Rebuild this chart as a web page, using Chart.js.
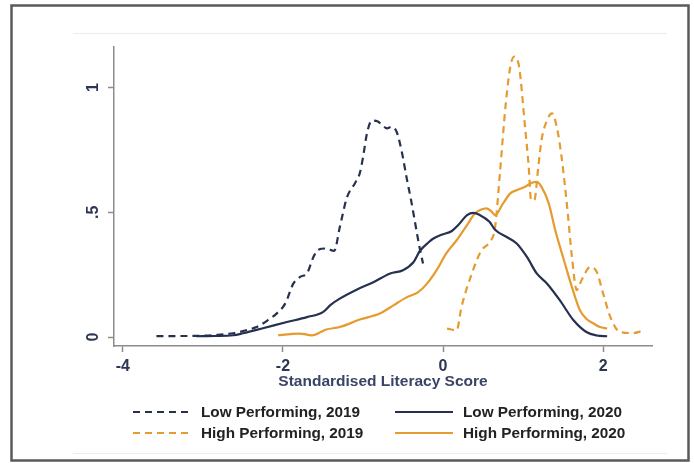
<!DOCTYPE html>
<html>
<head>
<meta charset="utf-8">
<script src="https://cdn.jsdelivr.net/npm/chart.js@4/dist/chart.umd.min.js"></script>
<style>
  html, body { margin: 0; padding: 0; background: #ffffff; }
  #wrap { width: 694px; height: 463px; position: relative; }
</style>
</head>
<body>
<div id="wrap"><canvas id="c" width="694" height="463"></canvas></div>
<script>
// Kernel density estimates of standardised literacy scores: [score, density]
const lowPerforming2019 = [
  [-3.58,0.004],[-3.3,0.004],[-3.05,0.005],[-2.85,0.008],[-2.62,0.015],[-2.45,0.028],
  [-2.33,0.04],[-2.2,0.065],[-2.08,0.094],[-1.97,0.135],[-1.87,0.214],[-1.78,0.242],
  [-1.70,0.255],[-1.62,0.32],[-1.56,0.35],[-1.46,0.355],[-1.36,0.345],[-1.29,0.44],
  [-1.20,0.56],[-1.10,0.617],[-1.04,0.657],[-1.0,0.72],[-0.95,0.817],[-0.89,0.868],
  [-0.82,0.865],[-0.76,0.85],[-0.70,0.837],[-0.64,0.843],[-0.58,0.823],[-0.52,0.75],
  [-0.45,0.63],[-0.40,0.55],[-0.35,0.46],[-0.30,0.37],[-0.25,0.295]
];
const lowPerforming2020 = [
  [-3.08,0.003],[-2.85,0.004],[-2.62,0.007],[-2.5,0.015],[-2.25,0.035],[-1.95,0.06],
  [-1.70,0.08],[-1.50,0.10],[-1.40,0.13],[-1.29,0.154],[-1.08,0.19],[-0.87,0.22],
  [-0.66,0.255],[-0.50,0.268],[-0.37,0.30],[-0.29,0.345],[-0.18,0.38],[-0.12,0.395],
  [-0.02,0.41],[0.11,0.425],[0.19,0.449],[0.30,0.489],[0.38,0.498],[0.46,0.489],
  [0.58,0.462],[0.65,0.43],[0.80,0.40],[0.92,0.375],[1.05,0.32],[1.17,0.255],
  [1.30,0.214],[1.46,0.147],[1.63,0.067],[1.79,0.02],[1.92,0.006],[2.05,0.003]
];
const highPerforming2019 = [
  [0.05,0.034],[0.17,0.027],[0.23,0.12],[0.36,0.255],[0.48,0.348],[0.58,0.38],
  [0.65,0.44],[0.71,0.656],[0.78,0.924],[0.84,1.084],[0.89,1.125],[0.95,1.084],
  [1.02,0.857],[1.07,0.683],[1.10,0.549],[1.14,0.549],[1.19,0.683],[1.23,0.79],
  [1.30,0.87],[1.36,0.897],[1.42,0.843],[1.48,0.723],[1.55,0.522],[1.61,0.321],
  [1.67,0.188],[1.73,0.228],[1.84,0.281],[1.92,0.261],[2.0,0.174],[2.09,0.08],
  [2.21,0.02],[2.38,0.016],[2.48,0.024]
];
const highPerforming2020 = [
  [-2.06,0.007],[-1.9,0.012],[-1.79,0.014],[-1.64,0.007],[-1.46,0.03],[-1.29,0.04],
  [-1.04,0.07],[-0.79,0.094],[-0.62,0.127],[-0.45,0.16],[-0.31,0.18],[-0.2,0.214],
  [-0.08,0.268],[0.04,0.335],[0.17,0.388],[0.30,0.449],[0.40,0.496],[0.47,0.51],
  [0.54,0.516],[0.60,0.505],[0.65,0.489],[0.75,0.536],[0.84,0.576],[0.92,0.589],
  [1.02,0.602],[1.11,0.619],[1.17,0.622],[1.23,0.602],[1.32,0.536],[1.40,0.43],
  [1.51,0.308],[1.61,0.2],[1.71,0.107],[1.80,0.07],[1.88,0.054],[1.96,0.04],[2.05,0.034]
];

const seriesNames = ['Low Performing, 2019', 'Low Performing, 2020',
                     'High Performing, 2019', 'High Performing, 2020'];
const xTickValues = [-4, -2, 0, 2];
const yTickValues = [0, 0.5, 1];
const yTickLabels = ['0', '.5', '1'];
const xAxisTitle = 'Standardised Literacy Score';

const NAVY = '#26304f';
const ORANGE = '#e59b2f';
const AXIS = '#8c8c8c';
const LABEL = '#2d3652';
const FONT = "'Liberation Sans', Arial, sans-serif";
const DASH = [7, 5];

const toPoints = arr => arr.map(p => ({ x: p[0], y: p[1] }));

const styles = [
  { color: NAVY, dash: DASH },
  { color: NAVY, dash: [] },
  { color: ORANGE, dash: DASH },
  { color: ORANGE, dash: [] }
];
const seriesData = [lowPerforming2019, lowPerforming2020, highPerforming2019, highPerforming2020];

const datasets = seriesData.map((d, i) => ({
  label: seriesNames[i],
  data: toPoints(d),
  borderColor: styles[i].color,
  borderDash: styles[i].dash,
  borderWidth: 2.2,
  pointRadius: 0,
  fill: false,
  cubicInterpolationMode: 'monotone'
}));

// Frame, rotated y labels, axis title and the two-column key
const decorations = {
  id: 'decorations',
  beforeDraw(chart) {
    const ctx = chart.ctx;
    ctx.save();
    ctx.fillStyle = '#ffffff';
    ctx.fillRect(0, 0, chart.width, chart.height);
    ctx.restore();
  },
  afterDraw(chart) {
    const ctx = chart.ctx;
    const yScale = chart.scales.y;
    const xScale = chart.scales.x;
    ctx.save();

    // outer border
    ctx.strokeStyle = '#5a5a5a';
    ctx.lineWidth = 2.5;
    ctx.strokeRect(11.5, 5.5, 677, 455);
    // faint inner rules
    ctx.strokeStyle = '#ececec';
    ctx.lineWidth = 1;
    ctx.beginPath();
    ctx.moveTo(73, 33.5); ctx.lineTo(667, 33.5);
    ctx.moveTo(73, 453.5); ctx.lineTo(667, 453.5);
    ctx.stroke();

    // y tick labels, vertical
    ctx.fillStyle = LABEL;
    ctx.font = 'bold 16px ' + FONT;
    ctx.textAlign = 'center';
    ctx.textBaseline = 'middle';
    yTickValues.forEach((v, i) => {
      const py = yScale.getPixelForValue(v);
      ctx.save();
      ctx.translate(94, py);
      ctx.rotate(-Math.PI / 2);
      ctx.fillText(yTickLabels[i], 0, 0);
      ctx.restore();
    });

    // x axis title
    ctx.fillStyle = '#3a4466';
    ctx.font = 'bold 15.5px ' + FONT;
    ctx.fillText(xAxisTitle, (xScale.left + xScale.right) / 2, 382);

    // key
    const cols = [133, 395];
    const rows = [412, 433];
    ctx.font = 'bold 15.3px ' + FONT;
    ctx.textAlign = 'left';
    seriesNames.forEach((name, i) => {
      const col = i % 2, row = Math.floor(i / 2);
      const x0 = cols[col], y0 = rows[row];
      ctx.strokeStyle = styles[i].color;
      ctx.lineWidth = 2;
      ctx.setLineDash(styles[i].dash);
      ctx.beginPath();
      ctx.moveTo(x0, y0);
      ctx.lineTo(x0 + 58, y0);
      ctx.stroke();
      ctx.setLineDash([]);
      ctx.fillStyle = '#222222';
      ctx.fillText(name, x0 + 68, y0 + 1);
    });
    ctx.restore();
  }
};

new Chart(document.getElementById('c'), {
  type: 'line',
  data: { datasets },
  options: {
    responsive: false,
    animation: false,
    layout: { padding: { top: 47, right: 42, left: 0, bottom: 0 } },
    plugins: { legend: { display: false }, tooltip: { enabled: false } },
    scales: {
      x: {
        type: 'linear',
        min: -4.11,
        max: 2.61,
        afterFit(s) { s.height = 117; },
        afterBuildTicks(s) { s.ticks = xTickValues.map(v => ({ value: v })); },
        border: { display: true, color: AXIS, width: 1.5 },
        grid: { drawOnChartArea: false, drawTicks: true, tickLength: 6, tickColor: AXIS, tickWidth: 1.5 },
        ticks: {
          color: LABEL,
          font: { family: FONT, size: 16, weight: 'bold' },
          padding: 5,
          maxRotation: 0,
          callback: v => String(v)
        }
      },
      y: {
        type: 'linear',
        min: -0.036,
        max: 1.163,
        afterFit(s) { s.width = 114; },
        afterBuildTicks(s) { s.ticks = yTickValues.map(v => ({ value: v })); },
        border: { display: true, color: AXIS, width: 1.5 },
        grid: { drawOnChartArea: false, drawTicks: true, tickLength: 6, tickColor: AXIS, tickWidth: 1.5 },
        ticks: { display: false }
      }
    }
  },
  plugins: [decorations]
});
</script>
</body>
</html>
